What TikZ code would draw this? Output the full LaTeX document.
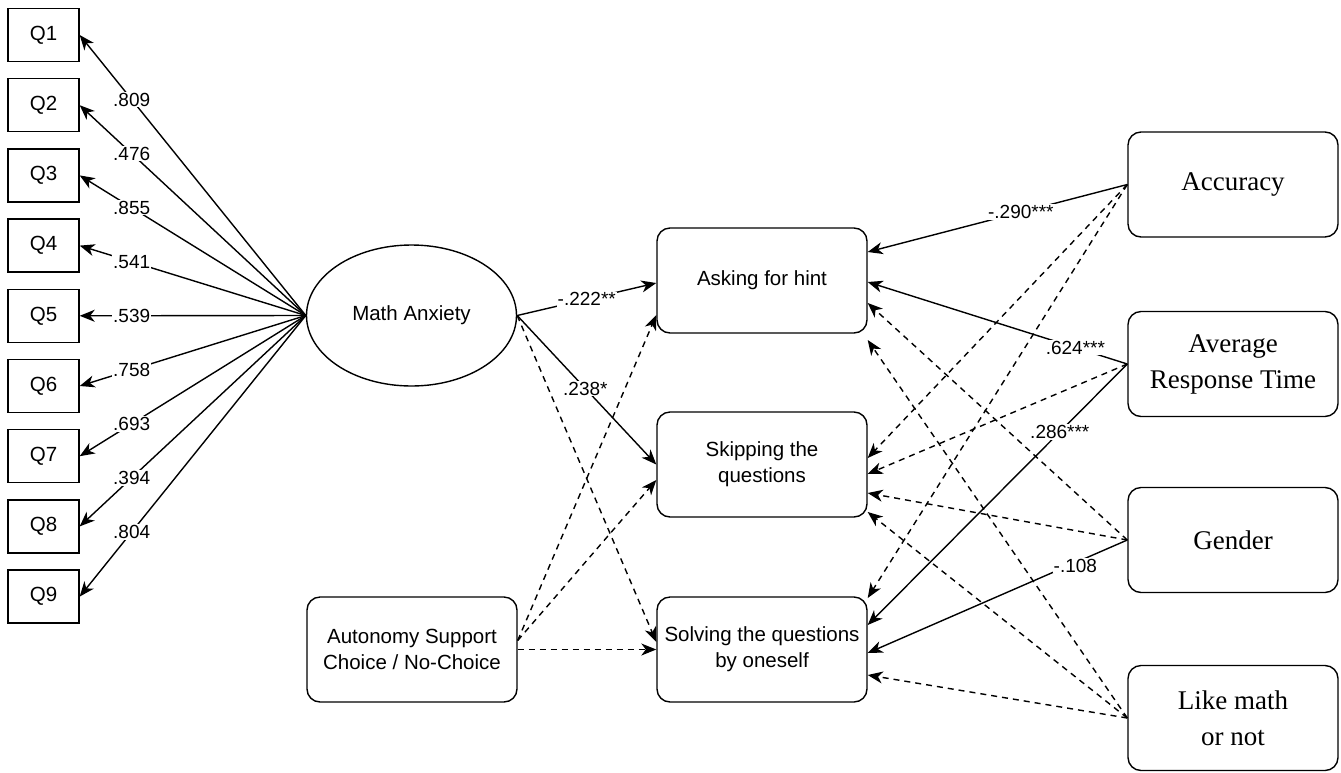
\documentclass[tikz,border=0pt]{standalone}
\usepackage{fontspec}
\setmainfont{Liberation Serif}
\newfontfamily\sansf{Liberation Sans}
\usetikzlibrary{shapes.geometric,arrows.meta}
\begin{document}
\begin{tikzpicture}[x=1pt,y=-1pt,
  qbox/.style={draw,line width=1.4pt,minimum width=71pt,minimum height=53pt,inner sep=0pt,font=\sansf\fontsize{20.5}{24}\selectfont},
  mbox/.style={draw,line width=1.4pt,rounded corners=13pt,minimum width=210pt,minimum height=105pt,inner sep=0pt,align=center,font=\sansf\fontsize{20.5}{26}\selectfont},
  rbox/.style={draw,line width=1.4pt,rounded corners=13pt,minimum width=210pt,minimum height=105pt,inner sep=0pt,align=center,font=\fontsize{27}{36}\selectfont},
  lat/.style={draw,ellipse,line width=1.4pt,minimum width=210pt,minimum height=141pt,inner sep=0pt,font=\sansf\fontsize{20.5}{24}\selectfont},
  arr/.style={line width=1.4pt,-{Stealth[length=15pt,width=12pt,inset=4.5pt]}},
  dsh/.style={arr,dash pattern=on 6pt off 5pt},
  lbl/.style={fill=white,inner sep=1pt,font=\sansf\fontsize{19}{21}\selectfont}]

\useasboundingbox[fill=white] (0,0) rectangle (1341,772);

% indicators
\foreach \i in {1,...,9} \node[qbox] (Q\i) at (43.5,{35+70.2*(\i-1)}) {Q\i};

% latent
\node[lat] (MA) at (411.5,315.5) {Math Anxiety};

% middle boxes
\node[mbox] (hint) at (762,280.5) {Asking for hint};
\node[mbox] (skip) at (762,464.5) {Skipping the\\questions};
\node[mbox] (solve) at (762,649.5) {Solving the questions\\by oneself};
\node[mbox] (aut) at (412,649.5) {Autonomy Support\\Choice / No-Choice};

% right boxes
\node[rbox] (acc) at (1233,184.5) {Accuracy};
\node[rbox] (avg) at (1233,364) {Average\\Response Time};
\node[rbox] (gen) at (1233,540) {Gender};
\node[rbox] (like) at (1233,718) {Like math\\or not};

% loadings
\foreach \i/\v in {1/.809,2/.476,3/.855,4/.541,5/.539,6/.758,7/.693,8/.394,9/.804}
  \draw[arr] (MA.west) -- node[lbl,pos=0.77]{\v} (Q\i.east);

% math anxiety paths
\draw[arr] (MA.east) -- node[lbl,pos=0.5]{-.222**} ([yshift=-2.5pt]hint.west);
\draw[arr] (MA.east) -- node[lbl,pos=0.49]{.238*} (skip.west);
\draw[dsh] (MA.east) -- ([yshift=7.5pt]solve.west);

% autonomy paths
\draw[dsh] ([yshift=9pt]aut.east) -- ([yshift=-34.5pt]hint.west);
\draw[dsh] ([yshift=9pt]aut.east) -- ([yshift=-15.5pt]skip.west);
\draw[dsh] (aut.east) -- (solve.west);

% right-side paths: dashed first
\draw[dsh] (acc.west) -- ([yshift=6.5pt]skip.east);
\draw[dsh] (acc.west) -- ([yshift=51.5pt]solve.east);
\draw[dsh] (avg.west) -- ([yshift=-9.5pt]skip.east);
\draw[dsh] (gen.west) -- ([yshift=-22.5pt]hint.east);
\draw[dsh] (gen.west) -- ([yshift=-28.5pt]skip.east);
\draw[dsh] (like.west) -- ([yshift=-59.5pt]hint.east);
\draw[dsh] (like.west) -- ([yshift=-47.5pt]skip.east);
\draw[dsh] (like.west) -- ([yshift=-25.5pt]solve.east);

% right-side solid paths
\draw[arr] (acc.west) -- node[lbl,pos=0.41]{-.290***} ([yshift=28.5pt]hint.east);
\draw[arr] (avg.west) -- node[lbl,pos=0.2]{.624***} ([yshift=-1.5pt]hint.east);
\draw[arr] (avg.west) -- node[lbl,pos=0.26]{.286***} ([yshift=24.5pt]solve.east);
\draw[arr] (gen.west) -- node[lbl,pos=0.2,yshift=-3pt]{-.108} ([yshift=-3.5pt]solve.east);

\end{tikzpicture}
\end{document}
